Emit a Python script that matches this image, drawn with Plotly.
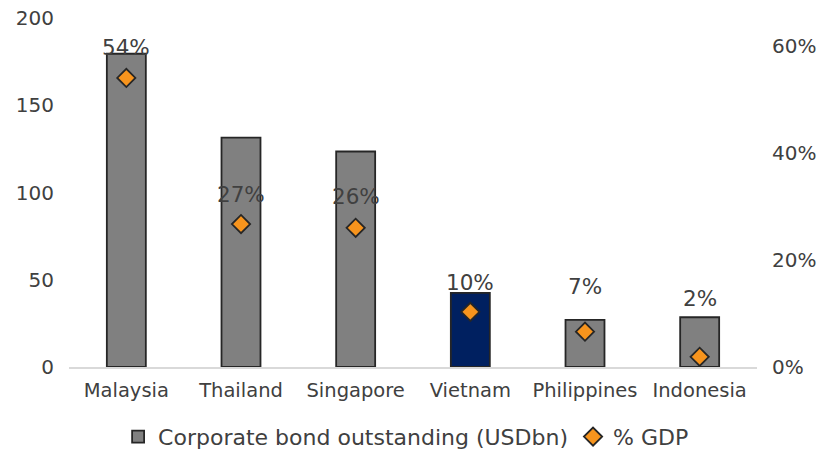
import plotly.graph_objects as go

countries = ["Malaysia", "Thailand", "Singapore", "Vietnam", "Philippines", "Indonesia"]
bond_usdbn = [179.5, 131.5, 123.5, 42.5, 27.0, 28.5]
gdp_pct = [0.54, 0.267, 0.26, 0.103, 0.066, 0.019]
gdp_labels = ["54%", "27%", "26%", "10%", "7%", "2%"]
label_shift = [30, 30, 31, 29, 45, 58]
bar_colors = ["#808080", "#808080", "#808080", "#002060", "#808080", "#808080"]

font_family = "DejaVu Sans, Arial, sans-serif"
txt = "#404040"

fig = go.Figure()
fig.add_trace(go.Bar(
    x=countries, y=bond_usdbn, name="Corporate bond outstanding (USDbn)",
    marker=dict(color=bar_colors, line=dict(color="#262626", width=1.8)),
    width=0.34, yaxis="y",
))
fig.add_trace(go.Scatter(
    x=countries, y=gdp_pct, name="% GDP", mode="markers", yaxis="y2",
    marker=dict(symbol="diamond", size=14, color="#F7941D",
                line=dict(color="#262626", width=1.8)),
))
for c, v, t, s in zip(countries, gdp_pct, gdp_labels, label_shift):
    fig.add_annotation(x=c, y=v, yref="y2", text=t, showarrow=False,
                       yshift=s, font=dict(size=21.5, color=txt, family=font_family))

fig.update_layout(
    width=834, height=452,
    margin=dict(l=69, r=77, t=18, b=85, autoexpand=False),
    plot_bgcolor="white", paper_bgcolor="white",
    font=dict(family=font_family, size=20, color=txt),
    showlegend=True,
    legend=dict(orientation="h", x=0.49, xanchor="center", y=-0.2, yanchor="middle",
                font=dict(size=22, color=txt), itemwidth=30, traceorder="normal"),
    xaxis=dict(showline=True, linecolor="#d9d9d9", linewidth=1.5, ticks="",
               ticklabelstandoff=5,
               tickfont=dict(size=19.5, color=txt), showgrid=False),
    yaxis=dict(range=[0, 200], tickvals=[0, 50, 100, 150, 200], showgrid=False,
               zeroline=False, showline=False, ticklabelstandoff=14,
               tickfont=dict(size=20, color=txt)),
    yaxis2=dict(range=[0, 0.652], tickvals=[0, 0.2, 0.4, 0.6], tickformat=".0%",
                overlaying="y", side="right", showgrid=False, zeroline=False,
                showline=False, ticklabelstandoff=14,
                tickfont=dict(size=20, color=txt)),
)

fig.write_html("out.html")
